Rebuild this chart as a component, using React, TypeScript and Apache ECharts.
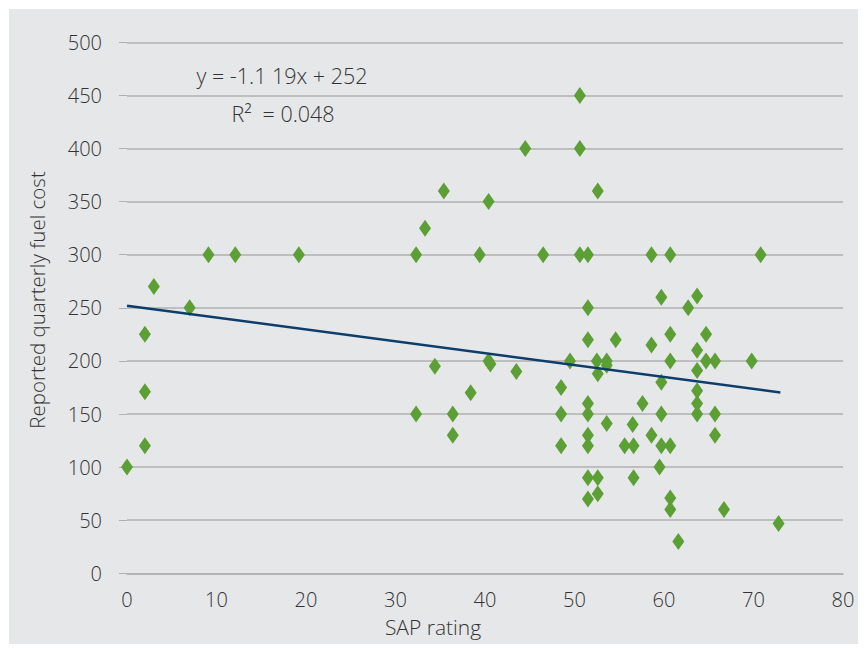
import React, { useEffect, useRef } from "react";
import * as echarts from "echarts";

const sapRating: number[] = [
  0, 2, 2, 2, 3, 7, 9.1, 12.1, 19.2, 32.3,
  33.3, 35.4, 39.4, 40.4, 44.5, 46.5, 50.6, 50.6, 50.6, 51.5,
  52.6, 58.6, 60.7, 70.8, 59.7, 63.7, 51.5, 62.7, 60.7, 64.7,
  51.5, 54.6, 58.6, 63.7, 34.4, 40.4, 40.6, 43.5, 49.5, 52.5,
  53.6, 53.6, 52.6, 48.5, 51.5, 48.5, 51.5, 57.6, 53.6, 56.5,
  59.7, 63.7, 60.7, 64.7, 65.7, 69.8, 38.4, 63.7, 63.7, 63.7,
  65.7, 59.7, 32.3, 36.4, 36.4, 51.5, 58.6, 65.7, 48.5, 51.5,
  55.6, 56.6, 59.7, 60.7, 59.5, 51.5, 52.6, 56.6, 51.5, 52.6,
  60.7, 60.7, 66.7, 72.8, 61.6,
];
const fuelCost: number[] = [
  100, 225, 171, 120, 270, 250, 300, 300, 300, 300,
  325, 360, 300, 350, 400, 300, 450, 400, 300, 300,
  360, 300, 300, 300, 260, 261, 250, 250, 225, 225,
  220, 220, 215, 210, 195, 200, 197, 190, 200, 200,
  200, 196, 188, 175, 160, 150, 150, 160, 141, 140,
  180, 191, 200, 200, 200, 200, 170, 172, 160, 150,
  150, 150, 150, 150, 130, 130, 130, 130, 120, 120,
  120, 120, 120, 120, 100, 90, 90, 90, 70, 75,
  71, 60, 60, 47, 30,
];
const trendSlope = -1.119;
const trendIntercept = 252;
const trendXStart = 0;
const trendXEnd = 73;
const equationText = "y = -1.1 19x + 252";
const rSquaredText = "R\u00B2  = 0.048";
const xTitle = "SAP rating";
const yTitle = "Reported quarterly fuel cost";

export default function App() {
  const ref = useRef<HTMLDivElement>(null);
  useEffect(() => {
    if (!ref.current) return;
    const chart = echarts.init(ref.current, undefined, { renderer: "svg" });
    const points = sapRating.map((x, i) => [x, fuelCost[i]]);
    const trend = [
      [trendXStart, trendIntercept + trendSlope * trendXStart],
      [trendXEnd, trendIntercept + trendSlope * trendXEnd],
    ];
    const font = "'Open Sans', 'Liberation Sans', Arial, sans-serif";
    const textColor = "#333333";
    const fs = 20;
    const fw = 300;
    const txt = (text: string, x: number, y: number, size: number, rotation = 0) => ({
      type: "text",
      x,
      y,
      rotation,
      style: {
        text,
        fontSize: size,
        fontWeight: fw,
        fontFamily: font,
        fill: textColor,
        align: "center",
        verticalAlign: "middle",
      },
    });
    chart.setOption({
      animation: false,
      backgroundColor: "#ffffff",
      textStyle: { fontFamily: font },
      graphic: [
        {
          type: "rect",
          z: -10,
          silent: true,
          shape: { x: 9, y: 9, width: 849, height: 635 },
          style: { fill: "#e6e7e9" },
        },
        txt(equationText, 282, 75, 21.5),
        txt(rSquaredText, 283, 113, 21.5),
        txt(xTitle, 433, 627, 21),
        txt(yTitle, 37, 300, 20.5, Math.PI / 2),
      ],
      grid: { left: 127, right: 25, top: 42.3, bottom: 78.7, containLabel: false },
      xAxis: {
        type: "value",
        min: 0,
        max: 80,
        interval: 10,
        axisLine: { show: true, lineStyle: { color: "#b0b0b0", width: 1.5 } },
        axisTick: { show: false },
        splitLine: { show: false },
        axisLabel: { fontSize: fs, fontWeight: fw, color: textColor, margin: 16, fontFamily: font },
      },
      yAxis: {
        type: "value",
        min: 0,
        max: 500,
        interval: 50,
        axisLine: { show: false },
        axisTick: { show: true, length: 8, lineStyle: { color: "#b0b0b0", width: 1 } },
        splitLine: { show: true, lineStyle: { color: "#b0b0b0", width: 1.5 } },
        axisLabel: { fontSize: fs, fontWeight: fw, color: textColor, margin: 25, fontFamily: font },
      },
      series: [
        {
          type: "scatter",
          data: points,
          symbol: "diamond",
          symbolSize: [12, 17],
          itemStyle: { color: "#5c9f35", opacity: 1 },
          z: 3,
        },
        {
          type: "line",
          data: trend,
          symbol: "none",
          lineStyle: { color: "#0d3d6b", width: 2.5 },
          z: 4,
        },
      ],
    });
    return () => chart.dispose();
  }, []);
  return (
    <div
      ref={ref}
      style={{ position: "fixed", left: 0, top: 0, width: 868, height: 652 }}
    />
  );
}
